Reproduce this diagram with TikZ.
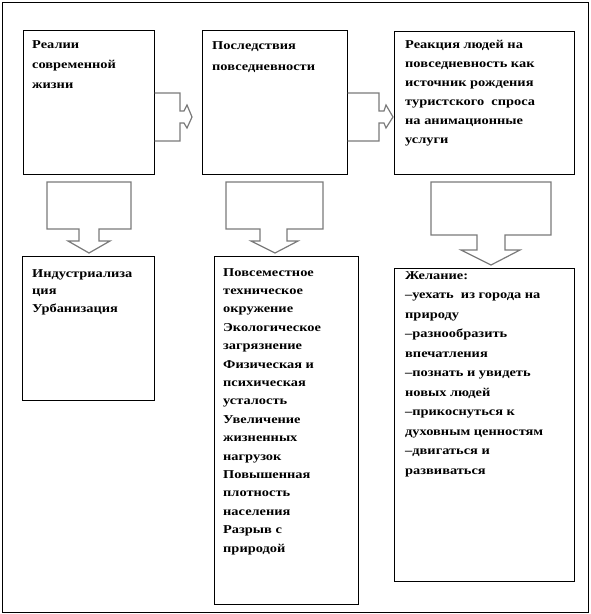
\documentclass[tikz,border=0pt]{standalone}
\usepackage{fontspec}
\newfontfamily\tf[FakeStretch=1.2]{Liberation Serif}
\begin{document}
\begin{tikzpicture}[x=1pt,y=-1pt,
  box/.style={draw=black,line width=1pt,inner sep=0,minimum width=#1},
  blk/.style={draw=black!52,line width=1.2pt,line join=miter},
  txt/.style={anchor=north west,inner sep=0,align=left,font=\tf\bfseries\fontsize{12}{#1}\selectfont}]
\useasboundingbox (0,0) rectangle (590,614);
\draw[line width=1pt] (2,2) rectangle (588,612);
% boxes
\node[box=131,minimum height=144] (b1) at (88.5,102) {};
\node[box=145,minimum height=144] (b2) at (274.5,102) {};
\node[box=180,minimum height=143] (b3) at (484,102.5) {};
\node[box=132,minimum height=144] (b4) at (88,328) {};
\node[box=144,minimum height=348] (b5) at (286,430) {};
\node[box=180,minimum height=313] (b6) at (484,424.5) {};
% texts
\node[txt=20] (t1) at (32,40.5) {Реалии\\современной\\жизни};
\node[txt=21] (t2) at (212,41.5) {Последствия\\повседневности};
\node[txt=19] (t3) at (405,40.5) {Реакция людей на\\повседневность как\\источник рождения\\туристского\ \ спроса\\на анимационные\\услуги};
\node[txt=17.5] (t4) at (32,269) {Индустриализа\\ция\\Урбанизация};
\node[txt=18.4] (t5) at (223,268) {Повсеместное\\техническое\\окружение\\Экологическое\\загрязнение\\Физическая и\\психическая\\усталость\\Увеличение\\жизненных\\нагрузок\\Повышенная\\плотность\\населения\\Разрыв с\\природой};
\node[txt=19.5] (t6) at (405,271) {Желание:\\–уехать\ \ из города на\\природу\\–разнообразить\\впечатления\\–познать и увидеть\\новых людей\\–прикоснуться к\\духовным ценностям\\–двигаться и\\развиваться};
% right block arrows
\draw[blk] (b1.east|-0,93) -- (180,93) -- (180,111) -- (184,111) -- (187,105) -- (192,117) -- (187,128) -- (184,123) -- (180,123) -- (180,141) -- (b1.east|-0,141);
\draw[blk] (b2.east|-0,93) -- (379,93) -- (379,111) -- (384,111) -- (386,105) -- (393,117) -- (386,128) -- (384,123) -- (379,123) -- (379,141) -- (b2.east|-0,141);
% down block arrows
\draw[blk] (47,182) -- (131,182) -- (131,229) -- (99,229) -- (99,241) -- (110,241) -- (89,253) -- (68,241) -- (79,241) -- (79,229) -- (47,229) -- cycle;
\draw[blk] (226,182) -- (323,182) -- (323,229) -- (287,229) -- (287,241) -- (298,241) -- (275,253) -- (251,241) -- (260,241) -- (260,229) -- (226,229) -- cycle;
\draw[blk] (431,182) -- (551,182) -- (551,235) -- (505,235) -- (505,250) -- (520,250) -- (491,265) -- (461,250) -- (477,250) -- (477,235) -- (431,235) -- cycle;
\end{tikzpicture}
\end{document}
